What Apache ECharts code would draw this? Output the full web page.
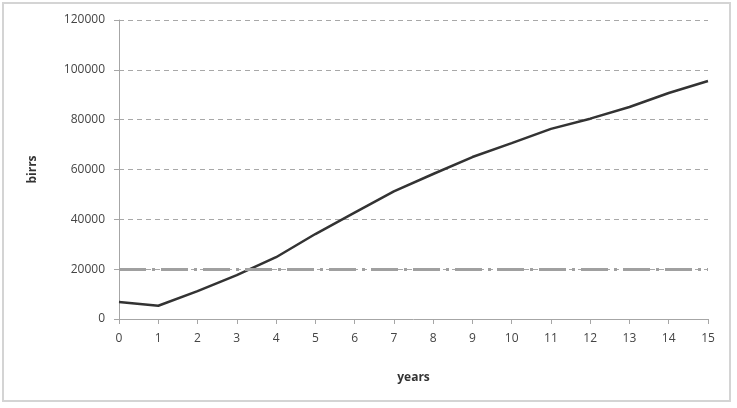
<!DOCTYPE html>
<html><head><meta charset="utf-8">
<script src="https://cdn.jsdelivr.net/npm/echarts@6/dist/echarts.min.js"></script>
<style>html,body{margin:0;padding:0;background:#fff}#c{width:737px;height:408px}
#frame{position:absolute;left:2px;top:2px;width:729px;height:400px;border:2px solid #d4d4d4;box-sizing:border-box;pointer-events:none}</style>
</head><body><div id="c"></div><div id="frame"></div>
<script>
const years = ['0','1','2','3','4','5','6','7','8','9','10','11','12','13','14','15'];
const birrs = [6800, 5300, 11200, 17600, 24800, 34100, 42700, 51200, 58200, 65000, 70600, 76300, 80400, 85100, 90700, 95500];
const threshold = 20000;
const yTicks = [0, 20000, 40000, 60000, 80000, 100000, 120000];

const font = 'Open Sans, Noto Sans, sans-serif';
const chart = echarts.init(document.getElementById('c'));
chart.setOption({
  animation: false,
  grid: {left: 119, right: 29, top: 20, bottom: 89},
  xAxis: {
    type: 'category', data: years, boundaryGap: false,
    name: 'years', nameLocation: 'middle', nameGap: 53,
    nameTextStyle: {fontFamily: font, fontSize: 12, fontWeight: 'bold', color: '#333'},
    axisLine: {lineStyle: {color: '#a6a6a6', width: 1}},
    axisTick: {show: true, alignWithLabel: true, length: 5, lineStyle: {color: '#a6a6a6'}},
    axisLabel: {fontFamily: font, fontSize: 12, color: '#444', margin: 14},
    splitLine: {show: false}
  },
  yAxis: {
    type: 'value', min: yTicks[0], max: yTicks[yTicks.length-1], interval: 20000,
    name: 'birrs', nameLocation: 'middle', nameGap: 80, nameRotate: 90,
    nameTextStyle: {fontFamily: font, fontSize: 12, fontWeight: 'bold', color: '#333'},
    axisLine: {show: true, lineStyle: {color: '#a6a6a6', width: 1}},
    axisTick: {show: true, length: 5, lineStyle: {color: '#a6a6a6'}},
    axisLabel: {fontFamily: font, fontSize: 12, color: '#444', margin: 14, formatter: v => String(v)},
    splitLine: {show: true, lineStyle: {color: '#a8a8a8', type: [5, 4], width: 1}}
  },
  series: [{
    type: 'line', data: birrs, symbol: 'none',
    lineStyle: {color: '#333', width: 2.5},
    markLine: {
      silent: true, symbol: 'none', label: {show: false},
      lineStyle: {color: '#a0a0a0', width: 3, type: [27, 6, 3, 6]},
      data: [{yAxis: threshold}]
    }
  }]
});
</script></body></html>
